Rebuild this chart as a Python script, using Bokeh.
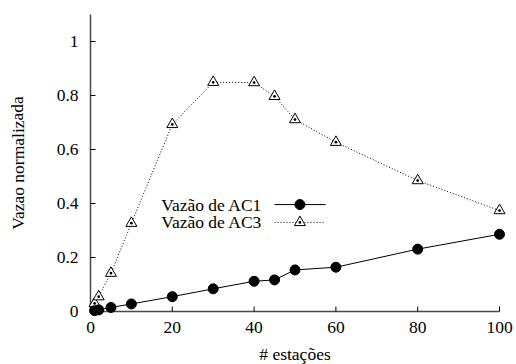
import math
from bokeh.plotting import figure
from bokeh.models import Range1d, ColumnDataSource
from bokeh.core.properties import value
from bokeh.embed import file_html
from bokeh.resources import INLINE

# ---- data ----
stations = [1, 2, 5, 10, 20, 30, 40, 45, 50, 60, 80, 100]
vazao_ac1 = [0.003, 0.006, 0.015, 0.028, 0.055, 0.084, 0.112, 0.117, 0.154, 0.164, 0.231, 0.286]
vazao_ac3 = [0.03, 0.055, 0.142, 0.327, 0.693, 0.849, 0.848, 0.797, 0.711, 0.627, 0.485, 0.374]
x_ticks = [0, 20, 40, 60, 80, 100]
x_tick_labels = ["0", "20", "40", "60", "80", "100"]
y_ticks = [0, 0.2, 0.4, 0.6, 0.8, 1]
y_tick_labels = ["0", "0.2", "0.4", "0.6", "0.8", "1"]
series_names = ["Vazão de AC1", "Vazão de AC3"]
x_title = "# estações"
y_title = "Vazao normalizada"
X_MIN, X_MAX = 0, 100
Y_MIN, Y_MAX = 0, 1.1

# ---- layout (pixels) ----
W, H = 516, 364
LEFT, RIGHT, TOP, BOTTOM = 90, 17, 14, 53
sx = (W - LEFT - RIGHT) / (X_MAX - X_MIN)      # px per x unit
sy = (H - TOP - BOTTOM) / (Y_MAX - Y_MIN)      # px per y unit

FONT = "Liberation Serif"
FS = "17.5px"
AXIS_COLOR = "#4a4a4a"

p = figure(width=W, height=H, output_backend="svg", toolbar_location=None,
           x_range=Range1d(X_MIN - LEFT / sx, X_MAX + RIGHT / sx),
           y_range=Range1d(Y_MIN - BOTTOM / sy, Y_MAX + TOP / sy),
           x_axis_location=None, y_axis_location=None, min_border=0)
p.outline_line_color = None
p.grid.visible = False
p.background_fill_color = "white"
p.border_fill_color = "white"

# axes: left and bottom lines with inward ticks
p.line([X_MIN, X_MIN], [Y_MIN, Y_MAX], line_color=AXIS_COLOR, line_width=1.5)
p.line([X_MIN, X_MAX], [Y_MIN, Y_MIN], line_color=AXIS_COLOR, line_width=1.5)
p.segment(x0=x_ticks, y0=[Y_MIN] * len(x_ticks), x1=x_ticks, y1=[Y_MIN + 5 / sy] * len(x_ticks),
          line_color="black", line_width=1)
p.segment(x0=[X_MIN] * len(y_ticks), y0=y_ticks, x1=[X_MIN + 5 / sx] * len(y_ticks), y1=y_ticks,
          line_color="black", line_width=1)

# series
p.line(stations, vazao_ac3, line_color="black", line_width=1, line_dash="1 2")
p.scatter(stations, vazao_ac3, marker="triangle_dot", size=11, line_color="black",
          fill_color="white", line_width=1)
p.line(stations, vazao_ac1, line_color="black", line_width=1)
p.scatter(stations, vazao_ac1, marker="circle", size=10, line_color="black", fill_color="black")

# legend samples (gnuplot style: text right-aligned, sample to the right)
leg_text_x = 42.0
leg_rows_y = [0.396, 0.330]
leg_line_x = [45.0, 57.5]
leg_mark_x = 51.2
p.line(leg_line_x, [leg_rows_y[0]] * 2, line_color="black", line_width=1)
p.scatter([leg_mark_x], [leg_rows_y[0]], marker="circle", size=10, line_color="black", fill_color="black")
p.line(leg_line_x, [leg_rows_y[1]] * 2, line_color="black", line_width=1, line_dash="1 2")
p.scatter([leg_mark_x], [leg_rows_y[1]], marker="triangle_dot", size=11, line_color="black",
          fill_color="white", line_width=1)

# every text in one glyph renderer
tx, ty, tt, ta, tb, xo, yo, ang = [], [], [], [], [], [], [], []
def add(x, y, t, a, b, dx=0, dy=0, an=0.0):
    tx.append(x); ty.append(y); tt.append(t); ta.append(a); tb.append(b)
    xo.append(dx); yo.append(dy); ang.append(an)

for name, ry in zip(series_names, leg_rows_y):
    add(leg_text_x, ry, name, "right", "middle")
for t, lab in zip(x_ticks, x_tick_labels):
    add(t, Y_MIN, lab, "center", "top", 0, 10)
for t, lab in zip(y_ticks, y_tick_labels):
    add(X_MIN, t, lab, "right", "middle", -12, 0)
add((X_MIN + X_MAX) / 2, Y_MIN, x_title, "center", "top", 0, 32)
add(X_MIN - 73 / sx, (Y_MIN + Y_MAX) / 2, y_title, "center", "middle", 0, 0, math.pi / 2)

src = ColumnDataSource(dict(x=tx, y=ty, text=tt, align=ta, baseline=tb, xoff=xo, yoff=yo, angle=ang))
p.text(x="x", y="y", text="text", source=src, text_align="align", text_baseline="baseline",
       x_offset="xoff", y_offset="yoff", angle="angle",
       text_font=value(FONT), text_font_size=FS, text_color="black")

open("out.html", "w").write(file_html(p, INLINE))
